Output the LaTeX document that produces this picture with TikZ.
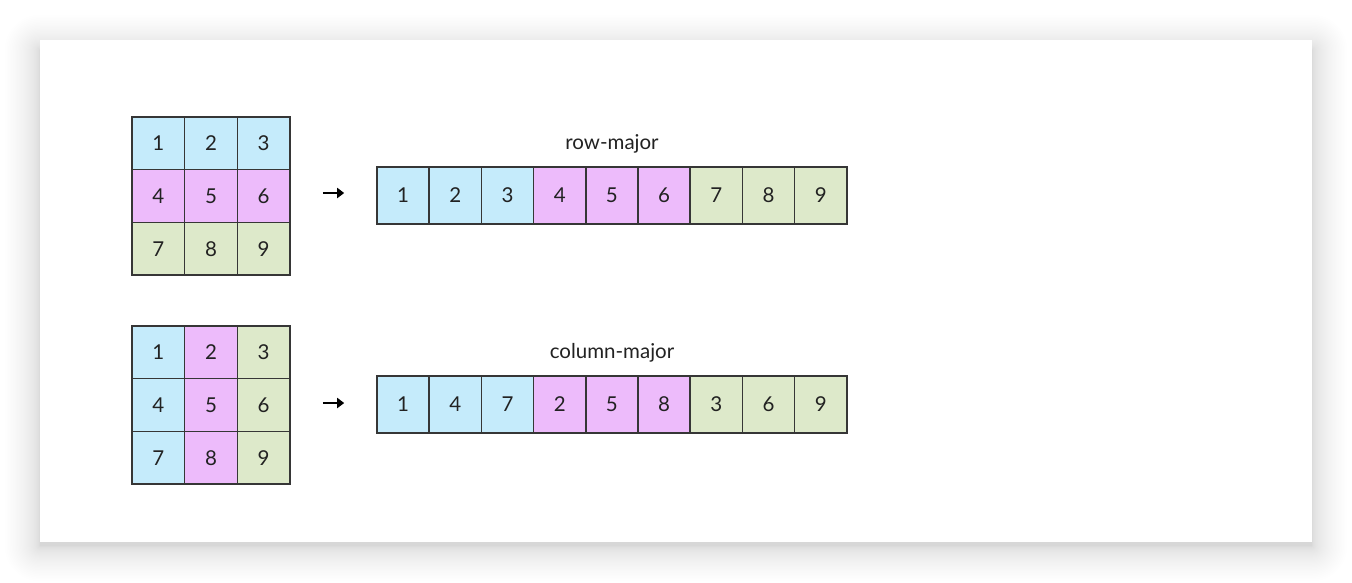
\documentclass[tikz,border=0pt]{standalone}
\usepackage{fontspec}
\setmainfont{Lato}
\usetikzlibrary{arrows.meta}
\definecolor{cblue}{HTML}{C5EBFB}
\definecolor{cpink}{HTML}{EDBBFB}
\definecolor{cgreen}{HTML}{DDE9CA}
\definecolor{cline}{HTML}{363636}
\definecolor{ctext}{HTML}{222222}
\begin{document}
\begin{tikzpicture}[x=1pt,y=-1pt,
  cell/.style={draw=cline, line width=1.6pt, minimum width=52.67pt, minimum height=52.67pt,
    inner sep=0pt, font=\fontsize{20.5}{20.5}\selectfont, text=ctext},
  lcell/.style={cell, minimum width=52.2pt, minimum height=57pt},
  lbl/.style={font=\fontsize{20.5}{20.5}\selectfont, text=ctext, inner sep=0pt},
  maparrow/.style={line width=2.6pt, draw=black, -{Triangle[length=7pt,width=10pt]}}]
\useasboundingbox (0,0) rectangle (1352,582);
% soft shadow of the card
\foreach \i in {1,...,40}{
  \pgfmathsetmacro\e{0.022*\i*\i}
  \fill[black, opacity=0.0024, rounded corners=\e pt] (40-\e,50-\e) rectangle (1312+\e,546+\e);
}
\fill[white] (40,40) rectangle (1312,542);
% row-major grid
\foreach \n/\c [count=\i from 0] in {1/cblue,2/cblue,3/cblue,4/cpink,5/cpink,6/cpink,7/cgreen,8/cgreen,9/cgreen}{
  \pgfmathsetmacro\cx{158.33+52.67*mod(\i,3)}
  \pgfmathsetmacro\cy{143.33+52.67*int(\i/3)}
  \node[cell, fill=\c] (g1-\n) at (\cx,\cy) {\n};
}
% column-major grid
\foreach \n/\c [count=\i from 0] in {1/cblue,2/cpink,3/cgreen,4/cblue,5/cpink,6/cgreen,7/cblue,8/cpink,9/cgreen}{
  \pgfmathsetmacro\cx{158.33+52.67*mod(\i,3)}
  \pgfmathsetmacro\cy{352.33+52.67*int(\i/3)}
  \node[cell, fill=\c] (g2-\n) at (\cx,\cy) {\n};
}
% row-major linear
\foreach \n/\c [count=\k from 0] in {1/cblue,2/cblue,3/cblue,4/cpink,5/cpink,6/cpink,7/cgreen,8/cgreen,9/cgreen}{
  \node[lcell, fill=\c] (r-\k) at (403.1+52.2*\k,195.5) {\n};
}
% column-major linear
\foreach \n/\c [count=\k from 0] in {1/cblue,4/cblue,7/cblue,2/cpink,5/cpink,8/cpink,3/cgreen,6/cgreen,9/cgreen}{
  \node[lcell, fill=\c] (c-\k) at (403.1+52.2*\k,404.5) {\n};
}
\node[lbl] (rowlbl) at (612,144) {row-major};
\node[lbl] (collbl) at (612,353) {column-major};
\draw[maparrow, shorten <=32pt, shorten >=32pt] (g1-6.east |- 0,193) -- (r-0.west |- 0,193);
\draw[maparrow, shorten <=32pt, shorten >=32pt] (g2-6.east |- 0,403) -- (c-0.west |- 0,403);
\end{tikzpicture}
\end{document}
